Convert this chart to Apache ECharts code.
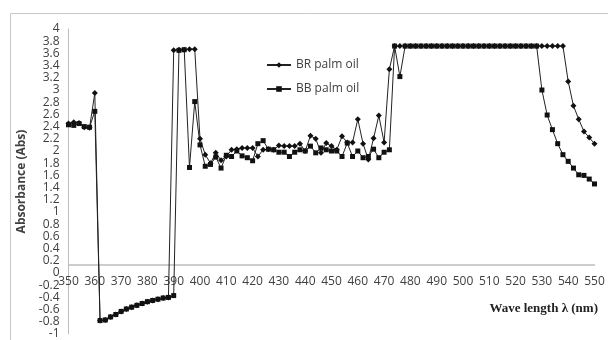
<!DOCTYPE html>
<html>
<head>
<meta charset="utf-8">
<script src="https://cdn.jsdelivr.net/npm/echarts@6/dist/echarts.min.js"></script>
<style>
  html, body { margin: 0; padding: 0; background: #fff; }
  #main { width: 608px; height: 340px; }
</style>
</head>
<body>
<div id="main"></div>
<script>
// wavelength (nm), one point every 2 nm
var wavelengths = [350,352,354,356,358,360,362,364,366,368,370,372,374,376,378,380,382,384,386,388,
  390,392,394,396,398,400,402,404,406,408,410,412,414,416,418,420,422,424,426,428,
  430,432,434,436,438,440,442,444,446,448,450,452,454,456,458,460,462,464,466,468,
  470,472,474,476,478,480,482,484,486,488,490,492,494,496,498,500,502,504,506,508,
  510,512,514,516,518,520,522,524,526,528,530,532,534,536,538,540,542,544,546,548,550];

var brPalmOil = [2.45,2.47,2.46,2.39,2.38,2.95,-0.78,-0.77,-0.72,-0.68,
  -0.63,-0.59,-0.56,-0.53,-0.50,-0.47,-0.45,-0.43,-0.41,-0.40,
  3.65,3.66,3.66,3.67,3.67,2.20,1.94,1.80,1.97,1.85,
  1.91,2.02,2.03,2.05,2.05,2.05,1.91,2.02,2.03,2.02,
  2.09,2.08,2.08,2.08,2.12,2.00,2.25,2.20,1.97,2.13,
  2.08,2.02,2.24,2.14,2.14,2.52,2.12,1.86,2.21,2.58,
  2.14,3.34,3.72,3.72,3.72,3.72,3.72,3.72,3.72,3.72,
  3.72,3.72,3.72,3.72,3.72,3.72,3.72,3.72,3.72,3.72,
  3.72,3.72,3.72,3.72,3.72,3.72,3.72,3.72,3.72,3.72,
  3.72,3.72,3.72,3.72,3.72,3.14,2.74,2.52,2.32,2.22,2.12];

var bbPalmOil = [2.43,2.42,2.45,2.40,2.39,2.65,-0.78,-0.77,-0.72,-0.68,
  -0.63,-0.59,-0.56,-0.53,-0.50,-0.47,-0.45,-0.43,-0.41,-0.40,
  -0.37,3.65,3.66,1.73,2.81,2.10,1.75,1.78,1.90,1.72,
  1.93,1.91,2.00,1.92,1.89,1.84,2.12,2.17,2.03,2.02,
  1.98,1.98,1.91,1.98,2.02,2.00,2.08,1.97,2.05,2.02,
  2.00,2.00,1.91,2.13,1.91,2.00,1.89,1.91,2.03,1.89,
  1.98,2.02,3.72,3.22,3.72,3.72,3.72,3.72,3.72,3.72,
  3.72,3.72,3.72,3.72,3.72,3.72,3.72,3.72,3.72,3.72,
  3.72,3.72,3.72,3.72,3.72,3.72,3.72,3.72,3.72,3.72,
  3.00,2.59,2.35,2.12,1.94,1.83,1.72,1.61,1.60,1.54,1.46];

var seriesNames = ['BR palm oil', 'BB palm oil'];

var myChart = echarts.init(document.getElementById('main'));
var option = {
    animation: false,
    backgroundColor: '#fff',
    title: {
        text: 'Wave length λ (nm)',
        right: 5,
        top: 297,
        textStyle: {
            fontFamily: 'Liberation Serif',
            fontWeight: 'bold',
            fontSize: 13,
            color: '#222'
        }
    },
    graphic: [
        {
            type: 'rect',
            shape: { x: 10.5, y: 13.5, width: 700, height: 400 },
            style: { fill: 'none', stroke: '#c8c8c8', lineWidth: 1 },
            silent: true
        }
    ],
    legend: {
        data: seriesNames,
        orient: 'vertical',
        left: 261,
        top: 54,
        itemWidth: 24,
        itemHeight: 7,
        itemGap: 12,
        textStyle: {
            fontFamily: 'Open Sans',
            fontSize: 12,
            color: '#404040'
        }
    },
    grid: {
        left: 68.5,
        right: 13.5,
        top: 29,
        bottom: 5
    },
    xAxis: {
        type: 'category',
        boundaryGap: false,
        data: wavelengths,
        offset: -69,
        axisLine: { onZero: false, lineStyle: { color: '#bdbdbd', width: 1.5 } },
        axisTick: { show: false },
        axisLabel: {
            interval: 4,
            margin: 11,
            fontFamily: 'Open Sans',
            fontSize: 12,
            color: '#404040'
        },
        splitLine: { show: false }
    },
    yAxis: {
        type: 'value',
        min: -1,
        max: 4,
        interval: 0.2,
        name: 'Absorbance (Abs)',
        nameLocation: 'middle',
        nameGap: 38,
        nameTextStyle: {
            fontFamily: 'Open Sans',
            fontWeight: 'bold',
            fontSize: 12,
            color: '#404040'
        },
        axisLine: { show: true, lineStyle: { color: '#bdbdbd', width: 1 } },
        axisTick: { show: false },
        axisLabel: {
            margin: 9,
            fontFamily: 'Open Sans',
            fontSize: 12,
            color: '#404040'
        },
        splitLine: { show: false }
    },
    series: [
        {
            name: seriesNames[0],
            type: 'line',
            data: brPalmOil,
            symbol: 'diamond',
            symbolSize: 6,
            showAllSymbol: true,
            color: '#111',
            lineStyle: { color: '#222', width: 1 },
            itemStyle: { color: '#111' }
        },
        {
            name: seriesNames[1],
            type: 'line',
            data: bbPalmOil,
            symbol: 'rect',
            symbolSize: 5,
            showAllSymbol: true,
            color: '#111',
            lineStyle: { color: '#222', width: 1 },
            itemStyle: { color: '#111' }
        }
    ]
};
myChart.setOption(option);
</script>
</body>
</html>
